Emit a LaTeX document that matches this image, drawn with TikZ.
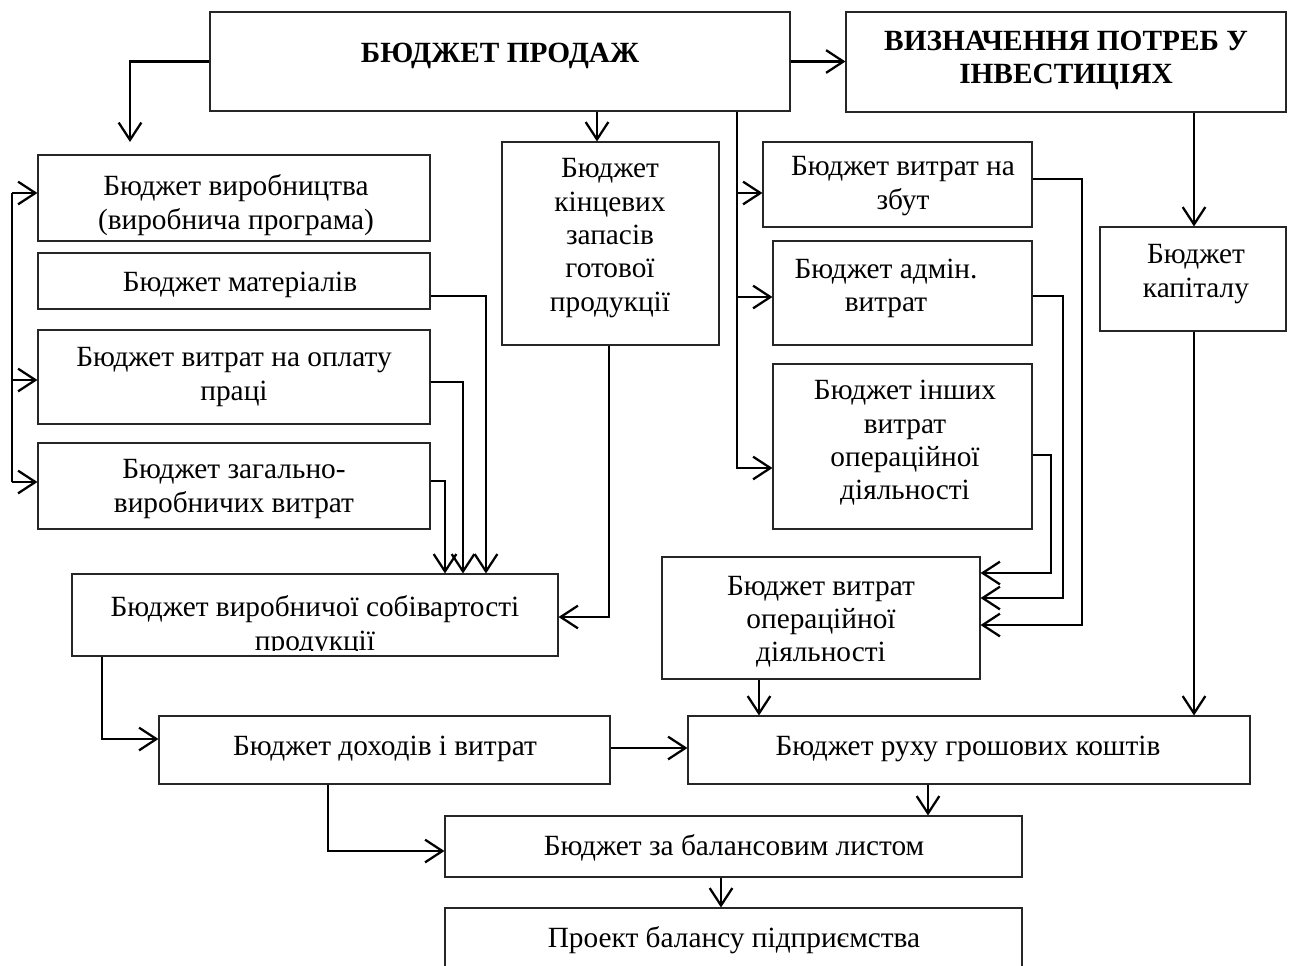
\documentclass[tikz,border=0pt]{standalone}
\usepackage{fontspec}
\setmainfont{Liberation Serif}
\usetikzlibrary{arrows.meta,fit}
\begin{document}
\begin{tikzpicture}[x=0.75pt,y=-0.75pt,
  box/.style={draw=black!85, line width=0.8pt, inner sep=0pt, fit={#1}},
  txt/.style={font=\fontsize{22}{25}\selectfont, align=center, inner sep=0pt, yshift=-3pt,
    execute at begin node=\strut, execute at end node=\strut},
  btxt/.style={txt, font=\fontsize{22}{25}\selectfont\bfseries},
  ln/.style={line width=1.7pt},
  arr/.style={line width=1.7pt, -{Straight Barb[length=13pt,width=17pt]}}]
\useasboundingbox[fill=white] (0,0) rectangle (1294,965);

% boxes
\node[box={(210,12)(790,111)}] (S) {};
\node[box={(846,12)(1286,112)}] (INV) {};
\node[box={(38,155)(430,241)}] (PROD) {};
\node[box={(38,253)(430,309)}] (MAT) {};
\node[box={(38,330)(430,424)}] (LAB) {};
\node[box={(38,443)(430,529)}] (OVH) {};
\node[box={(502,142)(719,345)}] (FG) {};
\node[box={(763,142)(1032,227)}] (ZB) {};
\node[box={(773,241)(1032,345)}] (ADM) {};
\node[box={(773,364)(1032,529)}] (OTH) {};
\node[box={(1100,227)(1286,331)}] (CAP) {};
\node[box={(662,557)(980,679)}] (OPX) {};
\node[box={(72,574)(558,656)}] (PC) {};
\node[box={(159,716)(610,784)}] (INC) {};
\node[box={(688,716)(1250,784)}] (CF) {};
\node[box={(445,816)(1022,877)}] (BAL) {};
\node[box={(445,908)(1022,968)}] (PRJ) {};

% texts
\node[btxt] (S-t) at (500,52) {БЮДЖЕТ ПРОДАЖ};
\node[btxt] (INV-t) at (1066,58) {ВИЗНАЧЕННЯ ПОТРЕБ У\\ІНВЕСТИЦІЯХ};
\node[txt] (PROD-t) at (236,203) {Бюджет виробництва\\(виробнича програма)};
\node[txt] (MAT-t) at (240,281) {Бюджет матеріалів};
\node[txt] (LAB-t) at (234,375) {Бюджет витрат на оплату\\праці};
\node[txt] (OVH-t) at (234,487) {Бюджет загально-\\виробничих витрат};
\node[txt] (FG-t) at (610,236) {Бюджет\\кінцевих\\запасів\\готової\\продукції};
\node[txt] (ZB-t) at (903,184) {Бюджет витрат на\\збут};
\node[txt] (ADM-t) at (886,286) {Бюджет адмін.\\витрат};
\node[txt] (OTH-t) at (905,441) {Бюджет інших\\витрат\\операційної\\діяльності};
\node[txt] (CAP-t) at (1196,272) {Бюджет\\капіталу};
\node[txt] (OPX-t) at (821,620) {Бюджет витрат\\операційної\\діяльності};
\begin{scope}
\clip (72,574) rectangle (558,650);
\node[txt] (PC-t) at (315,624) {Бюджет виробничої собівартості\\продукції};
\end{scope}
\node[txt] (INC-t) at (385,745) {Бюджет доходів і витрат};
\node[txt] (CF-t) at (968,745) {Бюджет руху грошових коштів};
\node[txt] (BAL-t) at (734,845) {Бюджет за балансовим листом};
\node[txt] (PRJ-t) at (734,937) {Проект балансу підприємства};

% connectors
\coordinate (pS) at (130,142);
\draw[arr] (S.west) -| (pS);
\draw[arr] (S.east) -- (S.east -| INV.west);
\draw[arr] (S.south -| 597,0) -- (FG.north -| 597,0);

% left bracket
\coordinate (L1) at (12,193);
\coordinate (L2) at (12,380);
\coordinate (L3) at (12,482);
\draw[ln] (L1) -- (L3);
\draw[arr] (L1) -- (L1 -| PROD.west);
\draw[arr] (L2) -- (L2 -| LAB.west);
\draw[arr] (L3) -- (L3 -| OVH.west);

% sales -> expense budgets
\draw[arr] (S.south -| 737,0) |- (OTH.west |- 0,468);
\draw[arr] (737,193) -- (ZB.west |- 0,193);
\draw[arr] (737,297) -- (ADM.west |- 0,297);

% expense budgets -> operating expense
\draw[arr] (ZB.east |- 0,179) -| (1082,625) -- (OPX.east |- 0,625);
\draw[arr] (ADM.east |- 0,296) -| (1063,598) -- (OPX.east |- 0,598);
\draw[arr] (OTH.east |- 0,455) -| (1051,573) -- (OPX.east |- 0,573);

% investments -> capital -> cash flow
\draw[arr] (INV.south -| 1194,0) -- (CAP.north -| 1194,0);
\draw[arr] (CAP.south -| 1194,0) -- (CF.north -| 1194,0);

% production -> production cost
\draw[arr] (MAT.east |- 0,296) -| (PC.north -| 486,0);
\draw[arr] (LAB.east |- 0,382) -| (PC.north -| 463,0);
\draw[arr] (OVH.east |- 0,481) -| (PC.north -| 445,0);
\draw[arr] (FG.south -| 609,0) |- (PC.east |- 0,617);

% lower part
\draw[arr] (PC.south -| 102,0) |- (INC.west |- 0,739);
\draw[arr] (INC.east |- 0,748) -- (CF.west |- 0,748);
\draw[arr] (INC.south -| 328,0) |- (BAL.west |- 0,851);
\draw[arr] (OPX.south -| 759,0) -- (CF.north -| 759,0);
\draw[arr] (CF.south -| 928,0) -- (BAL.north -| 928,0);
\draw[arr] (BAL.south -| 721,0) -- (PRJ.north -| 721,0);
\end{tikzpicture}
\end{document}
